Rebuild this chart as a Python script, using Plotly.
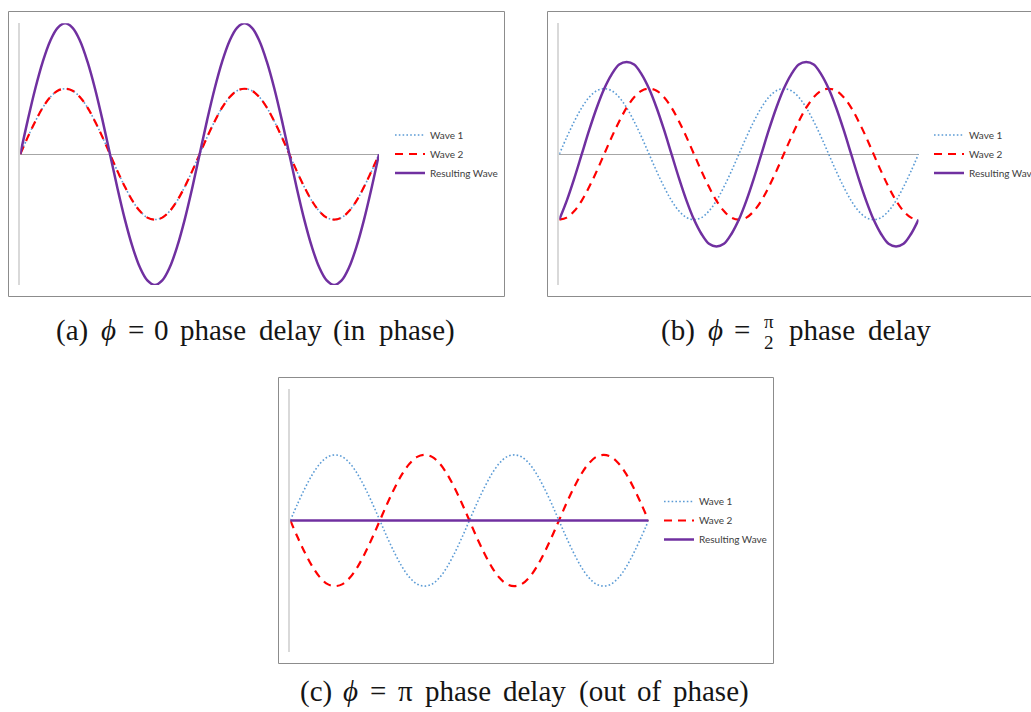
import plotly.graph_objects as go

W, H = 1031, 712

# ---------------- data (phase in degrees, 15 degree steps) ----------------
phase_deg = [0, 15, 30, 45, 60, 75, 90, 105, 120, 135, 150, 165, 180, 195, 210, 225, 240, 255, 270, 285, 300, 315, 330, 345,
             360, 375, 390, 405, 420, 435, 450, 465, 480, 495, 510, 525, 540, 555, 570, 585, 600, 615, 630, 645, 660, 675, 690, 705, 720]

wave1 = [0, 0.26, 0.5, 0.71, 0.87, 0.97, 1, 0.97, 0.87, 0.71, 0.5, 0.26, 0, -0.26, -0.5, -0.71, -0.87, -0.97, -1, -0.97, -0.87, -0.71, -0.5, -0.26,
         0, 0.26, 0.5, 0.71, 0.87, 0.97, 1, 0.97, 0.87, 0.71, 0.5, 0.26, 0, -0.26, -0.5, -0.71, -0.87, -0.97, -1, -0.97, -0.87, -0.71, -0.5, -0.26, 0]

# (a) in phase
a_wave2 = [0, 0.26, 0.5, 0.71, 0.87, 0.97, 1, 0.97, 0.87, 0.71, 0.5, 0.26, 0, -0.26, -0.5, -0.71, -0.87, -0.97, -1, -0.97, -0.87, -0.71, -0.5, -0.26,
           0, 0.26, 0.5, 0.71, 0.87, 0.97, 1, 0.97, 0.87, 0.71, 0.5, 0.26, 0, -0.26, -0.5, -0.71, -0.87, -0.97, -1, -0.97, -0.87, -0.71, -0.5, -0.26, 0]
a_result = [0, 0.52, 1, 1.41, 1.73, 1.93, 2, 1.93, 1.73, 1.41, 1, 0.52, 0, -0.52, -1, -1.41, -1.73, -1.93, -2, -1.93, -1.73, -1.41, -1, -0.52,
            0, 0.52, 1, 1.41, 1.73, 1.93, 2, 1.93, 1.73, 1.41, 1, 0.52, 0, -0.52, -1, -1.41, -1.73, -1.93, -2, -1.93, -1.73, -1.41, -1, -0.52, 0]

# (b) pi/2 delay
b_wave2 = [-1, -0.97, -0.87, -0.71, -0.5, -0.26, 0, 0.26, 0.5, 0.71, 0.87, 0.97, 1, 0.97, 0.87, 0.71, 0.5, 0.26, 0, -0.26, -0.5, -0.71, -0.87, -0.97,
           -1, -0.97, -0.87, -0.71, -0.5, -0.26, 0, 0.26, 0.5, 0.71, 0.87, 0.97, 1, 0.97, 0.87, 0.71, 0.5, 0.26, 0, -0.26, -0.5, -0.71, -0.87, -0.97, -1]
b_result = [-1, -0.71, -0.37, 0, 0.37, 0.71, 1, 1.22, 1.37, 1.41, 1.37, 1.22, 1, 0.71, 0.37, 0, -0.37, -0.71, -1, -1.22, -1.37, -1.41, -1.37, -1.22,
            -1, -0.71, -0.37, 0, 0.37, 0.71, 1, 1.22, 1.37, 1.41, 1.37, 1.22, 1, 0.71, 0.37, 0, -0.37, -0.71, -1, -1.22, -1.37, -1.41, -1.37, -1.22, -1]

# (c) pi delay (out of phase)
c_wave2 = [0, -0.26, -0.5, -0.71, -0.87, -0.97, -1, -0.97, -0.87, -0.71, -0.5, -0.26, 0, 0.26, 0.5, 0.71, 0.87, 0.97, 1, 0.97, 0.87, 0.71, 0.5, 0.26,
           0, -0.26, -0.5, -0.71, -0.87, -0.97, -1, -0.97, -0.87, -0.71, -0.5, -0.26, 0, 0.26, 0.5, 0.71, 0.87, 0.97, 1, 0.97, 0.87, 0.71, 0.5, 0.26, 0]
c_result = [0, 0, 0, 0, 0, 0, 0, 0, 0, 0, 0, 0, 0, 0, 0, 0, 0, 0, 0, 0, 0, 0, 0, 0,
            0, 0, 0, 0, 0, 0, 0, 0, 0, 0, 0, 0, 0, 0, 0, 0, 0, 0, 0, 0, 0, 0, 0, 0, 0]

series_names = ["Wave 1", "Wave 2", "Resulting Wave"]

caption_a_words = ["(a)", "<i>ϕ</i>", "=", "0", "phase", "delay", "(in", "phase)"]
caption_b_words = ["(b)", "<i>ϕ</i>", "=", "phase", "delay"]
caption_b_frac = ["π", "2"]
caption_c_words = ["(c)", "<i>ϕ</i>", "=", "π", "phase", "delay", "(out", "of", "phase)"]

# ---------------- styling / layout ----------------
# horizontal centres (pixels) of each caption word
caption_a_cx = [72, 108, 135.5, 161.5, 213, 290, 349.5, 416.5]
caption_b_cx = [678, 715, 742, 822, 899]
caption_b_frac_cx = 768.5
caption_c_cx = [315.5, 350.5, 378, 405, 457.5, 534.5, 602.5, 649.5, 710.5]

BLUE, RED, PURPLE = "#5B9BD5", "#FF0000", "#7030A0"
styles = [
    dict(color=BLUE, width=1.6, dash="1.6px,2.2px"),
    dict(color=RED, width=2.2, dash="8px,6px"),
    dict(color=PURPLE, width=2.5),
]


def px_x(p):
    return p / W


def px_y(p):
    return 1 - p / H


fig = go.Figure()
panels = [
    ("x", "y", "legend", [wave1, a_wave2, a_result]),
    ("x2", "y2", "legend2", [wave1, b_wave2, b_result]),
    ("x3", "y3", "legend3", [wave1, c_wave2, c_result]),
]
for xa, ya, lg, ys in panels:
    for name, yv, st in zip(series_names, ys, styles):
        fig.add_trace(go.Scatter(x=phase_deg, y=yv, name=name, mode="lines", line=dict(shape="spline", **st),
                                 xaxis=xa, yaxis=ya, legend=lg, hoverinfo="skip"))

ax_common = dict(showgrid=False, showticklabels=False, ticks="", zeroline=False, showline=False,
                 range=[0, 720], fixedrange=True)
ay_common = dict(showgrid=False, showticklabels=False, ticks="", zeroline=True, zerolinecolor="#A6A6A6",
                 zerolinewidth=1, showline=True, linecolor="#D9D9D9", linewidth=2, range=[-2, 2], fixedrange=True)

# plot-area positions (pixels)
a_dom = ((20.3, 379.0), (23.3, 285.0))
b_dom = ((559.3, 918.5), (23.3, 285.0))
c_dom = ((290.3, 648.5), (389.3, 651.7))

leg_font = dict(family="Lato, 'Open Sans', sans-serif", size=10, color="#404040")


def legend_at(xp, yp):
    return dict(x=px_x(xp), y=px_y(yp), xanchor="left", yanchor="top", bgcolor="rgba(0,0,0,0)",
                borderwidth=0, font=leg_font, itemwidth=30, tracegroupgap=0, itemclick=False,
                itemdoubleclick=False)


fig.update_layout(
    width=W, height=H, margin=dict(l=0, r=0, t=0, b=0, autoexpand=False),
    paper_bgcolor="white", plot_bgcolor="white", showlegend=True,
    xaxis=dict(domain=[px_x(a_dom[0][0]), px_x(a_dom[0][1])], anchor="y", **ax_common),
    yaxis=dict(domain=[px_y(a_dom[1][1]), px_y(a_dom[1][0])], anchor="x", **ay_common),
    xaxis2=dict(domain=[px_x(b_dom[0][0]), px_x(b_dom[0][1])], anchor="y2", **ax_common),
    yaxis2=dict(domain=[px_y(b_dom[1][1]), px_y(b_dom[1][0])], anchor="x2", **ay_common),
    xaxis3=dict(domain=[px_x(c_dom[0][0]), px_x(c_dom[0][1])], anchor="y3", **ax_common),
    yaxis3=dict(domain=[px_y(c_dom[1][1]), px_y(c_dom[1][0])], anchor="x3", **ay_common),
    legend=legend_at(390, 120.5),
    legend2=legend_at(929, 120.5),
    legend3=legend_at(659, 487),
)

frame_line = dict(color="#8C8C8C", width=1)
fig.add_shape(type="rect", xref="paper", yref="paper", x0=px_x(8.5), x1=px_x(504.5), y0=px_y(296.5), y1=px_y(11.5),
              line=frame_line, fillcolor="rgba(0,0,0,0)", layer="below")
# panel (b) frame runs off the right edge of the picture: draw top, left and bottom sides only
fig.add_shape(type="path", xref="paper", yref="paper", layer="below", line=frame_line,
              path=f"M 1,{px_y(11.5)} L {px_x(547.5)},{px_y(11.5)} L {px_x(547.5)},{px_y(296.5)} L 1,{px_y(296.5)}")
fig.add_shape(type="rect", xref="paper", yref="paper", x0=px_x(278.5), x1=px_x(773.5), y0=px_y(663.5), y1=px_y(377.5),
              line=frame_line, fillcolor="rgba(0,0,0,0)", layer="below")

CAP_FAMILY = "'Liberation Serif', 'DejaVu Serif', serif"


def cap(text, xp, yp, size=29):
    fig.add_annotation(text=text, x=px_x(xp), y=px_y(yp), xref="paper", yref="paper", xanchor="center",
                       yanchor="middle", showarrow=False,
                       font=dict(family=CAP_FAMILY, size=size, color="#151515"))


for w, xp in zip(caption_a_words, caption_a_cx):
    cap(w, xp, 330)
for w, xp in zip(caption_b_words, caption_b_cx):
    cap(w, xp, 330)
cap(caption_b_frac[0], caption_b_frac_cx, 321.5, size=19)
cap(caption_b_frac[1], caption_b_frac_cx, 342, size=19)
for w, xp in zip(caption_c_words, caption_c_cx):
    cap(w, xp, 691)

# put the figure at the window's top-left corner and clip anything that runs past its right edge
page_fix = ("document.documentElement.style.margin='0';document.body.style.margin='0';"
            "document.documentElement.style.overflow='hidden';document.body.style.overflow='hidden';"
            "document.querySelectorAll('svg.main-svg').forEach(function(s){s.style.overflow='hidden';});")
fig.write_html("out.html", config={"displayModeBar": False}, post_script=page_fix)
